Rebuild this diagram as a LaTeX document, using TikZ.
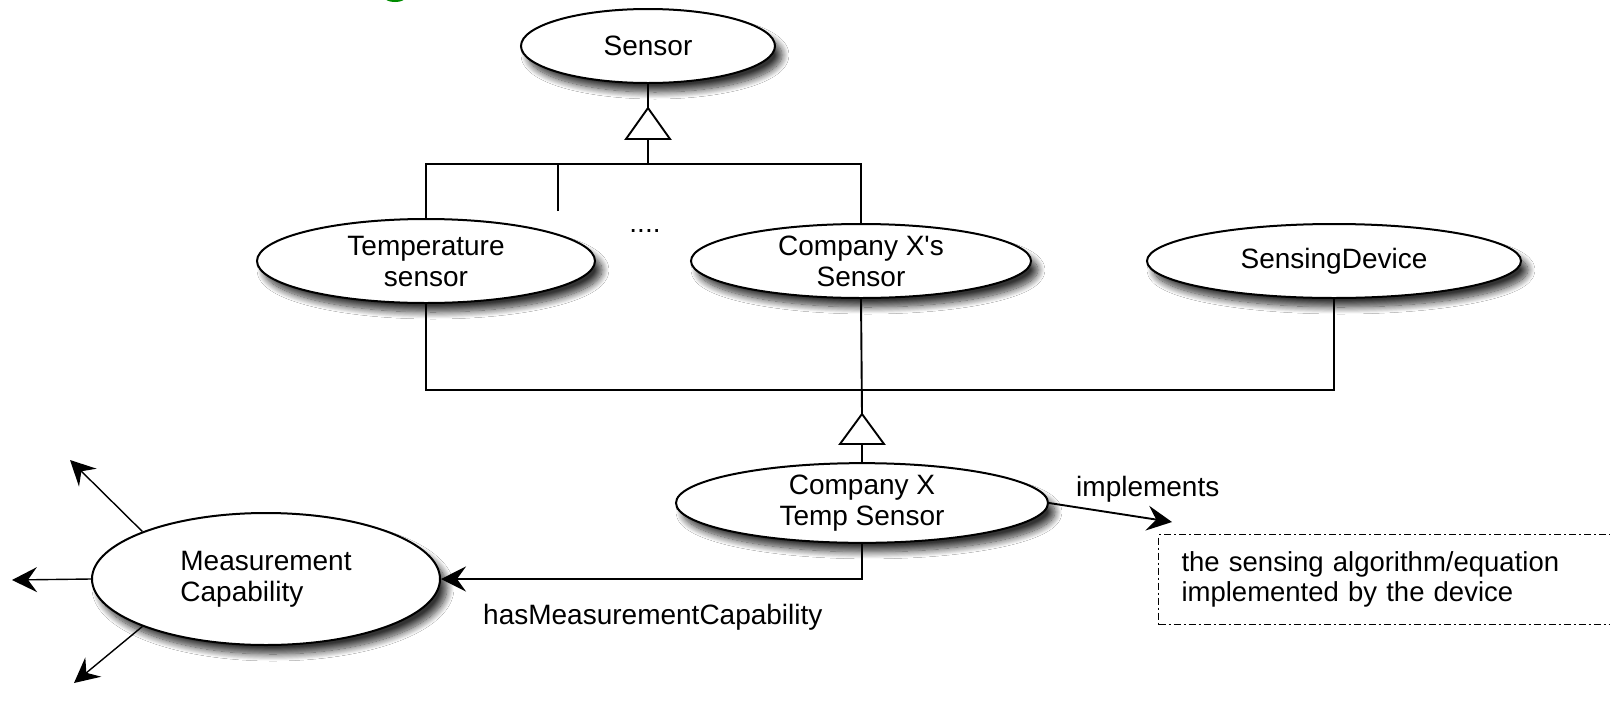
\documentclass[tikz,border=0pt]{standalone}
\usepackage{fontspec}
\setmainfont{Liberation Sans}[Ligatures=TeXOff]
\usetikzlibrary{shapes.geometric,shadows.blur,arrows.meta}

\tikzset{
  txt/.style={font=\fontsize{28}{31}\selectfont},
  cls/.style={ellipse, draw=black, line width=2pt, fill=white, inner sep=0pt,
    align=center, txt,
    blur shadow={shadow xshift=7pt, shadow yshift=-9pt, shadow blur radius=7pt,
      shadow blur steps=14, shadow opacity=80}},
  link/.style={line width=1.9pt},
  thinlink/.style={line width=1.4pt},
  tip/.style={-{Stealth[length=25pt,width=25pt,inset=9pt]}},
  lbl/.style={txt, inner sep=0pt},
  gen/.style={draw=black, line width=1.9pt, fill=white, line join=miter},
  notebox/.style={draw=black, line width=1.1pt,
    dash pattern=on 7pt off 3pt on 2pt off 3pt,
    minimum height=90pt, text width=425pt, inner xsep=23pt, align=left,
    font=\fontsize{27.5}{30}\selectfont},
}

\begin{document}
\begin{tikzpicture}[x=1pt,y=-1pt]
\useasboundingbox (0,0) rectangle (1610,710);
\clip (0,0) rectangle (1610,710);
\fill[white] (0,0) rectangle (1610,710);

% cut-off heading fragment at the top edge
\fill[green!55!black] (395,-2) ellipse (10 and 4);

% classes
\node[cls, minimum width=254pt, minimum height=74pt]  (sensor) at (648,46)   {Sensor};
\node[cls, minimum width=338pt, minimum height=84pt]  (temp)   at (426,261)  {Temperature\\sensor};
\node[cls, minimum width=340pt, minimum height=74pt]  (cxs)    at (861,261)  {Company X's\\Sensor};
\node[cls, minimum width=374pt, minimum height=74pt]  (dev)    at (1334,261) {SensingDevice};
\node[cls, minimum width=372pt, minimum height=74pt]  (cxt)    at (862,503)  {Company X\\Temp Sensor};
\node[cls, minimum width=348pt, minimum height=132pt, align=left] (mc) at (266,579) {Measurement\\Capability};

% generalisation towards Sensor
\coordinate (g1)  at (648,108);
\coordinate (g1b) at (648,139);
\coordinate (j1)  at (648,164);
\draw[link] (sensor.south) -- (g1);
\draw[gen] (g1) -- ++(-22,31) -- ++(44,0) -- cycle;
\draw[link] (g1b) -- (j1);
\draw[link] (temp.north) |- (j1) -| (cxs.north);
\coordinate (stub) at (558,211);
\draw[thinlink] (stub) -- (stub |- j1);
\node[lbl, anchor=base] (more) at (645,232) {....};

% generalisation of Company X Temp Sensor
\coordinate (j2)  at (862,390);
\coordinate (g2)  at (862,414);
\coordinate (g2b) at (862,444);
\draw[link] (cxs.south) -- (g2);
\draw[link] (temp.south) |- (j2);
\draw[link] (dev.south) |- (j2);
\draw[gen] (g2) -- ++(-22,30) -- ++(44,0) -- cycle;
\draw[link] (g2b) -- (cxt.north);

% hasMeasurementCapability
\draw[link, tip] (cxt.south) |- (mc.east);
\node[lbl, anchor=base west] (hasmc) at (483,624) {hasMeasurementCapability};

% implements
\coordinate (impl) at (1172,522);
\draw[link, tip] (cxt.east) -- (impl);
\node[lbl, anchor=base west] (impllbl) at (1076,496) {implements};
\node[notebox, anchor=north west] (algo) at (1158,534)
  {the sensing algorithm/equation\\implemented by the device};

% further properties of Measurement Capability
\coordinate (o1) at (70,460);
\coordinate (o2) at (12,580);
\coordinate (o3) at (74,683);
\draw[thinlink, tip] (mc.159) -- (o1);
\draw[thinlink, tip] (mc.west) -- (o2);
\draw[thinlink, tip] (mc.201) -- (o3);
\end{tikzpicture}
\end{document}
